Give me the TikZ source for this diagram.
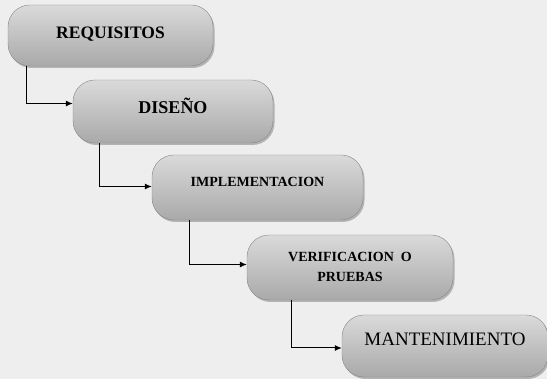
\documentclass[tikz,border=0pt]{standalone}
\usepackage{fontspec}
\setmainfont{Liberation Serif}
\usetikzlibrary{shadows,arrows.meta}
\definecolor{bg}{HTML}{EEEEEE}
\definecolor{boxtop}{HTML}{DADADA}
\definecolor{boxbot}{HTML}{A9A9A9}
\tikzset{
  stage/.style={rounded corners=22pt, top color=boxtop, bottom color=boxbot,
    draw=boxbot!80!black, line width=0.4pt,
    drop shadow={shadow xshift=1.5pt, shadow yshift=-2pt, fill=black!45, opacity=0.6},
    inner sep=0pt, align=center, font=\bfseries},
  arr/.style={-{Latex[length=7pt,width=6pt]}, line width=1pt, black}
}
\begin{document}
\begin{tikzpicture}[x=1pt,y=1pt]
\fill[bg] (0,0) rectangle (547,379);
\useasboundingbox (0,0) rectangle (547,379);
\node[stage, minimum width=205pt, minimum height=61pt, font=\bfseries\fontsize{17.5}{20}\selectfont] (b1) at (110.5,343.5) {\raisebox{6pt}{REQUISITOS}};
\node[stage, minimum width=200pt, minimum height=63pt, font=\bfseries\fontsize{18}{20}\selectfont] (b2) at (173,267.5) {\raisebox{11pt}{DISEÑO}};
\node[stage, minimum width=211pt, minimum height=65pt, font=\bfseries\fontsize{14}{16}\selectfont] (b3) at (257.5,191.5) {\raisebox{12pt}{IMPLEMENTACION}};
\node[stage, minimum width=206pt, minimum height=65pt, font=\bfseries\fontsize{14}{20}\selectfont] (b4) at (350,111.5) {\raisebox{6pt}{\begin{tabular}{@{}c@{}}VERIFICACION\ \ O\\PRUEBAS\end{tabular}}};
\node[stage, minimum width=206pt, minimum height=62pt, font=\fontsize{19}{21}\selectfont] (b5) at (445,33) {\raisebox{14pt}{MANTENIMIENTO}};
\draw[arr] ([xshift=19pt]b1.south west) |- ([yshift=8pt]b2.west);
\draw[arr] ([xshift=27pt]b2.south west) |- ([yshift=1pt]b3.west);
\draw[arr] ([xshift=38pt]b3.south west) |- ([yshift=3pt]b4.west);
\draw[arr] ([xshift=45pt]b4.south west) |- ([yshift=-2pt]b5.west);
\end{tikzpicture}
\end{document}
